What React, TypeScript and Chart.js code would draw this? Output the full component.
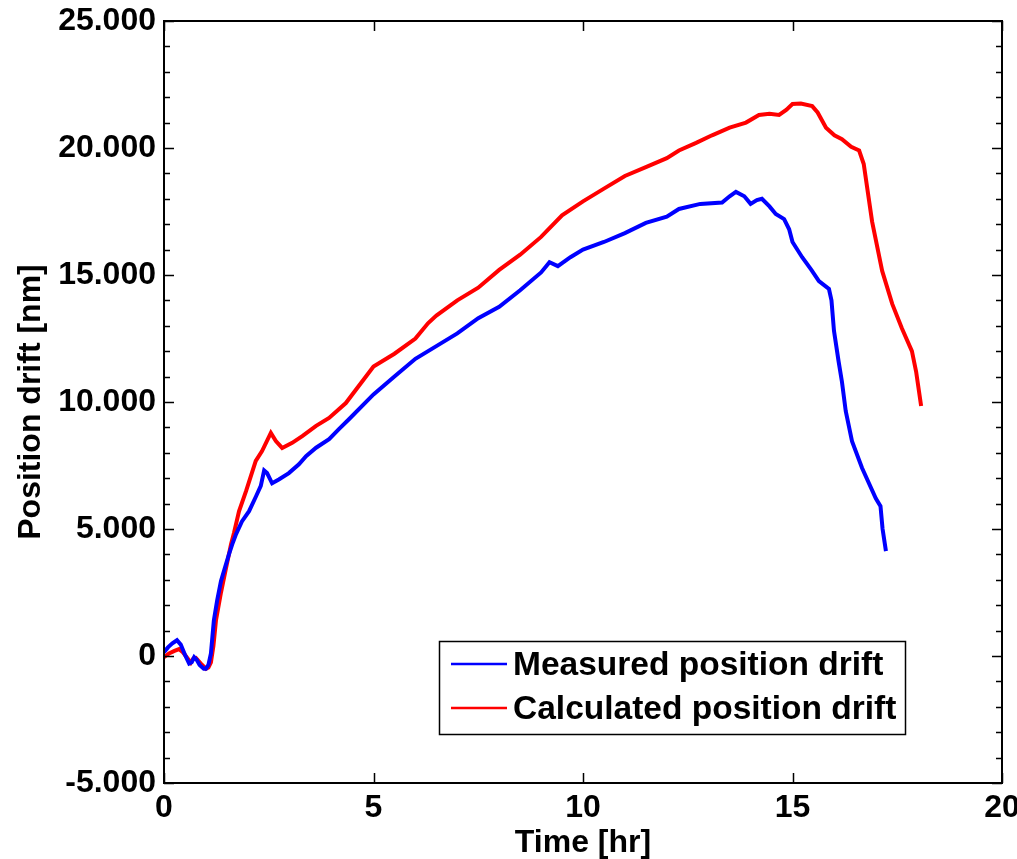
import React, { useEffect, useRef } from "react";
import { Chart, registerables } from "chart.js";

Chart.register(...registerables);

const measuredTime = [
  0.0, 0.1, 0.2, 0.31, 0.4, 0.5, 0.6, 0.66, 0.72, 0.78, 0.85, 0.95, 1.0, 1.06, 1.12, 1.19, 1.27, 1.36,
  1.45, 1.55, 1.64, 1.72, 1.86, 2.03, 2.2, 2.31, 2.39, 2.46, 2.58, 2.74, 2.98, 3.22, 3.39, 3.63, 3.94,
  4.18, 4.42, 5.0, 5.5, 6.0, 6.5, 7.0, 7.5, 8.0, 8.5, 9.0, 9.2, 9.4, 9.7, 10.0, 10.5, 11.0, 11.5, 12.0,
  12.29, 12.8, 13.32, 13.5, 13.65, 13.85, 14.0, 14.15, 14.27, 14.45, 14.6, 14.8, 14.92, 15.0, 15.23,
  15.45, 15.63, 15.87, 15.93, 15.99, 16.1, 16.18, 16.27, 16.42, 16.66, 16.99, 17.1, 17.15, 17.23,
];
const measuredDrift = [
  0.15, 0.35, 0.5, 0.62, 0.45, 0.05, -0.3, -0.25, -0.05, -0.15, -0.35, -0.5, -0.5, -0.35, 0.1, 1.4, 2.2,
  2.95, 3.45, 4.0, 4.45, 4.8, 5.3, 5.7, 6.3, 6.7, 7.3, 7.2, 6.8, 6.95, 7.2, 7.55, 7.87, 8.2, 8.54,
  8.94, 9.33, 10.3, 11.0, 11.7, 12.2, 12.7, 13.3, 13.75, 14.4, 15.1, 15.5, 15.35, 15.7, 16.0, 16.3,
  16.65, 17.05, 17.3, 17.6, 17.8, 17.85, 18.1, 18.27, 18.1, 17.8, 17.95, 18.0, 17.7, 17.4, 17.2, 16.8,
  16.3, 15.7, 15.2, 14.76, 14.45, 14.0, 12.8, 11.6, 10.8, 9.65, 8.46, 7.4, 6.2, 5.9, 5.0, 4.13,
];

const calculatedTime = [
  0.0, 0.12, 0.25, 0.36, 0.45, 0.52, 0.64, 0.7, 0.76, 0.88, 1.0, 1.06, 1.12, 1.18, 1.24, 1.36, 1.48,
  1.6, 1.67, 1.79, 1.96, 2.19, 2.34, 2.55, 2.67, 2.82, 3.06, 3.3, 3.63, 3.94, 4.34, 5.0, 5.5, 6.0, 6.3,
  6.5, 7.0, 7.5, 8.0, 8.5, 9.0, 9.5, 10.0, 10.5, 11.0, 11.5, 12.0, 12.29, 12.7, 13.08, 13.5, 13.89,
  14.2, 14.45, 14.68, 14.85, 15.0, 15.2, 15.47, 15.6, 15.8, 16.0, 16.18, 16.4, 16.59, 16.7, 16.9,
  17.14, 17.38, 17.61, 17.85, 17.95, 18.07,
];
const calculatedDrift = [
  -0.05, 0.1, 0.2, 0.27, 0.15, 0.0, -0.26, -0.1, -0.08, -0.3, -0.5, -0.45, -0.25, 0.4, 1.4, 2.5, 3.46,
  4.4, 4.84, 5.7, 6.5, 7.68, 8.07, 8.78, 8.46, 8.19, 8.39, 8.66, 9.06, 9.37, 9.96, 11.4, 11.9, 12.5,
  13.1, 13.4, 14.0, 14.5, 15.2, 15.8, 16.5, 17.35, 17.9, 18.4, 18.9, 19.25, 19.6, 19.9, 20.2, 20.5,
  20.8, 21.0, 21.3, 21.35, 21.3, 21.5, 21.73, 21.75, 21.65, 21.4, 20.8, 20.5, 20.35, 20.05, 19.9,
  19.37, 17.1, 15.16, 13.86, 12.9, 12.0, 11.2, 9.84,
];

const seriesLabels = ["Measured position drift", "Calculated position drift"];
const xTickValues = [0, 5, 10, 15, 20];
const yMajorValues = [-5, 0, 5, 10, 15, 20, 25];
const yMinorValues = [
  -4, -3, -2, -1, 1, 2, 3, 4, 6, 7, 8, 9, 11, 12, 13, 14, 16, 17, 18, 19, 21, 22, 23, 24,
];

const FONT = '"Liberation Sans", Arial, sans-serif';

const framePlugin = {
  id: "matlabFrame",
  afterDraw(chart: any) {
    const { ctx, chartArea } = chart;
    const xs = chart.scales.x;
    const ys = chart.scales.y;
    const { left, right, top, bottom } = chartArea;
    ctx.save();
    ctx.strokeStyle = "#000";
    ctx.lineWidth = 1.5;
    ctx.beginPath();
    for (const v of xTickValues) {
      const px = Math.round(xs.getPixelForValue(v)) + 0.5;
      ctx.moveTo(px, bottom);
      ctx.lineTo(px, bottom - 10);
      ctx.moveTo(px, top);
      ctx.lineTo(px, top + 10);
    }
    for (const v of yMajorValues) {
      const py = Math.round(ys.getPixelForValue(v)) + 0.5;
      ctx.moveTo(left, py);
      ctx.lineTo(left + 10, py);
      ctx.moveTo(right, py);
      ctx.lineTo(right - 10, py);
    }
    for (const v of yMinorValues) {
      const py = Math.round(ys.getPixelForValue(v)) + 0.5;
      ctx.moveTo(left, py);
      ctx.lineTo(left + 6, py);
      ctx.moveTo(right, py);
      ctx.lineTo(right - 6, py);
    }
    ctx.stroke();
    ctx.lineWidth = 2;
    ctx.strokeRect(left, top, right - left, bottom - top);

    // legend
    const lx = 439.5;
    const ly = 641.5;
    const lw = 466;
    const lh = 93;
    ctx.fillStyle = "#fff";
    ctx.fillRect(lx, ly, lw, lh);
    ctx.lineWidth = 1.5;
    ctx.strokeRect(lx, ly, lw, lh);
    const rows = [664, 708];
    chart.data.datasets.forEach((ds: any, i: number) => {
      const y = rows[i];
      ctx.strokeStyle = ds.borderColor;
      ctx.lineWidth = 2.5;
      ctx.beginPath();
      ctx.moveTo(451, y);
      ctx.lineTo(507, y);
      ctx.stroke();
      ctx.fillStyle = "#000";
      ctx.font = `bold 33.5px ${FONT}`;
      ctx.textAlign = "left";
      ctx.textBaseline = "middle";
      ctx.fillText(ds.label, 513, y + 2);
    });
    ctx.restore();
  },
};

export default function App() {
  const canvasRef = useRef<HTMLCanvasElement | null>(null);

  useEffect(() => {
    document.body.style.margin = "0";
    const canvas = canvasRef.current;
    if (!canvas) return;
    const measured = measuredTime.map((t, i) => ({ x: t, y: measuredDrift[i] }));
    const calculated = calculatedTime.map((t, i) => ({ x: t, y: calculatedDrift[i] }));
    const tickFont = { family: FONT, size: 32, weight: "bold" as const, lineHeight: 1 };
    const chart = new Chart(canvas, {
      type: "line",
      data: {
        datasets: [
          {
            label: seriesLabels[0],
            data: measured,
            borderColor: "#0000ff",
            borderWidth: 4,
            pointRadius: 0,
            tension: 0,
            fill: false,
          },
          {
            label: seriesLabels[1],
            data: calculated,
            borderColor: "#ff0000",
            borderWidth: 4,
            pointRadius: 0,
            tension: 0,
            fill: false,
          },
        ],
      },
      options: {
        responsive: false,
        animation: false,
        devicePixelRatio: 1,
        layout: { padding: { left: 0, top: 21, right: 15, bottom: 0 } },
        plugins: {
          legend: { display: false },
          tooltip: { enabled: false },
        },
        scales: {
          x: {
            type: "linear",
            min: 0,
            max: 20,
            afterBuildTicks: (scale: any) => {
              scale.ticks = xTickValues.map((v) => ({ value: v }));
            },
            ticks: {
              font: tickFont,
              color: "#000",
              padding: 9,
              maxRotation: 0,
              autoSkip: false,
              callback: (v: any) => String(v),
            },
            grid: { display: false, drawTicks: false },
            border: { display: false },
            title: {
              display: true,
              text: "Time [hr]",
              color: "#000",
              font: tickFont,
              padding: { top: 0, bottom: 0 },
            },
            afterFit: (scale: any) => {
              scale.height = 76;
              scale.paddingLeft = 0;
              scale.paddingRight = 0;
            },
          },
          y: {
            type: "linear",
            min: -5,
            max: 25,
            afterBuildTicks: (scale: any) => {
              scale.ticks = yMajorValues.map((v) => ({ value: v }));
            },
            ticks: {
              font: tickFont,
              color: "#000",
              padding: 8,
              autoSkip: false,
              callback: (v: any) => (Number(v) === 0 ? "0" : Number(v).toFixed(3)),
            },
            grid: { display: false, drawTicks: false },
            border: { display: false },
            title: {
              display: true,
              text: "Position drift [nm]",
              color: "#000",
              font: tickFont,
              padding: { top: 15, bottom: 0 },
            },
            afterFit: (scale: any) => {
              scale.width = 164;
              scale.paddingTop = 0;
              scale.paddingBottom = 0;
            },
          },
        },
      },
      plugins: [framePlugin],
    });
    return () => chart.destroy();
  }, []);

  return (
    <div style={{ position: "absolute", left: 0, top: 0, width: 1017, height: 859 }}>
      <canvas ref={canvasRef} width={1017} height={859} style={{ width: 1017, height: 859 }} />
    </div>
  );
}
